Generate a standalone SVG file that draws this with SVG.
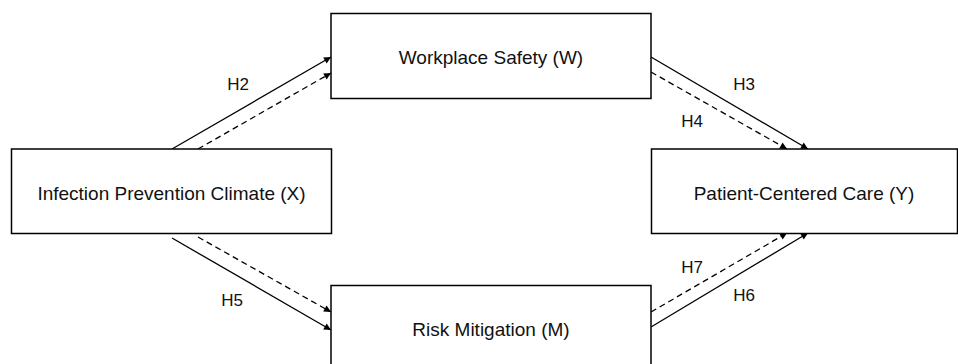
<svg xmlns="http://www.w3.org/2000/svg" width="958" height="364" viewBox="0 0 958 364">
<defs>
<style>
.box{fill:#fff;stroke:#000;stroke-width:1.5}
.lbl{font-family:"Liberation Sans",Arial,sans-serif;font-size:19px;fill:#111;text-anchor:middle}
.h{font-family:"Liberation Sans",Arial,sans-serif;font-size:17px;fill:#111;text-anchor:middle}
.e{stroke:#000;stroke-width:1.3;fill:none;marker-end:url(#ah)}
.d{stroke-dasharray:6 4}
</style>
<marker id="ah" viewBox="0 0 10 10" refX="10" refY="5" markerWidth="8" markerHeight="7" markerUnits="userSpaceOnUse" orient="auto">
<path d="M0,0 L10,5 L0,10 z" fill="#000"/>
</marker>
</defs>
<rect width="958" height="364" fill="#fff"/>
<g id="connectors">
<line class="e" x1="172" y1="149" x2="331" y2="57"/>
<line class="e d" x1="198" y1="149" x2="331" y2="73"/>
<line class="e" x1="651" y1="57" x2="808" y2="149"/>
<line class="e d" x1="651" y1="72" x2="787" y2="149"/>
<line class="e" x1="172" y1="238" x2="331" y2="330"/>
<line class="e d" x1="198" y1="237" x2="331" y2="312"/>
<line class="e" x1="651" y1="327" x2="808" y2="233"/>
<line class="e d" x1="651" y1="312" x2="787" y2="233"/>
</g>
<g id="node-W">
<rect class="box" x="331" y="13.5" width="320" height="85"/>
<text class="lbl" x="491" y="64">Workplace Safety (W)</text>
</g>
<g id="node-X">
<rect class="box" x="11.5" y="149" width="320" height="84.5"/>
<text class="lbl" x="171.5" y="200">Infection Prevention Climate (X)</text>
</g>
<g id="node-Y">
<rect class="box" x="651.5" y="149" width="306" height="84.5"/>
<text class="lbl" x="804" y="200">Patient-Centered Care (Y)</text>
</g>
<g id="node-M">
<rect class="box" x="331" y="285.5" width="320" height="85"/>
<text class="lbl" x="491" y="336">Risk Mitigation (M)</text>
</g>
<g id="labels">
<text class="h" x="238" y="90">H2</text>
<text class="h" x="744" y="90">H3</text>
<text class="h" x="692" y="127">H4</text>
<text class="h" x="232" y="306">H5</text>
<text class="h" x="744" y="301">H6</text>
<text class="h" x="692" y="273">H7</text>
</g>
</svg>
